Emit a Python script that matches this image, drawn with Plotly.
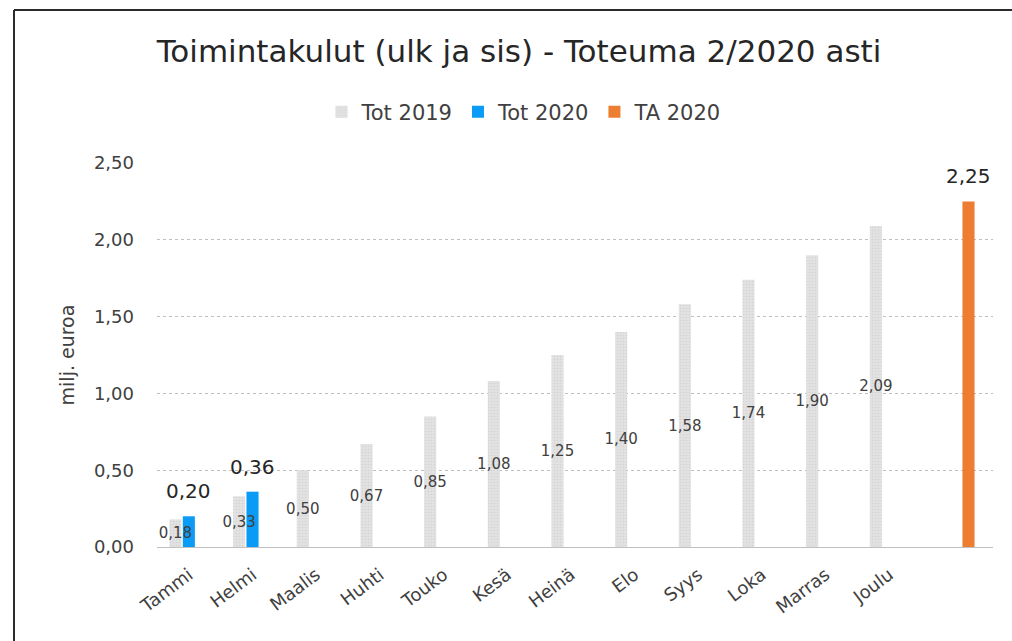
import plotly.graph_objects as go

categories = ["Tammi", "Helmi", "Maalis", "Huhti", "Touko", "Kesä", "Heinä",
              "Elo", "Syys", "Loka", "Marras", "Joulu", " "]
tot_2019 = [0.18, 0.33, 0.50, 0.67, 0.85, 1.08, 1.25, 1.40, 1.58, 1.74, 1.90, 2.09, None]
tot_2020 = [0.20, 0.36, None, None, None, None, None, None, None, None, None, None, None]
ta_2020 = [None, None, None, None, None, None, None, None, None, None, None, None, 2.25]
y_ticks = [0, 0.5, 1.0, 1.5, 2.0, 2.5]

FONT = "DejaVu Sans"
W, H = 1012, 641
L, R, T, B = 157, 19, 163, 94
pw, ph = W - L - R, H - T - B
BW = 0.19          # bar width in category units
OFF = {"Tot 2019": -0.21, "Tot 2020": 0.0, "TA 2020": 0.245}


def fmt(v):
    return f"{v:.2f}".replace(".", ",")


fig = go.Figure()
# coloured series first so the grey labels sit on top
fig.add_trace(go.Bar(
    name="Tot 2020", x=categories, y=tot_2020, legendrank=2,
    width=BW, offset=OFF["Tot 2020"] - BW / 2,
    marker=dict(color="#0a9bf7", line=dict(width=0)),
))
fig.add_trace(go.Bar(
    name="TA 2020", x=categories, y=ta_2020, legendrank=3,
    width=BW, offset=OFF["TA 2020"] - BW / 2,
    marker=dict(color="#ed7d31", line=dict(width=0)),
))
fig.add_trace(go.Bar(
    name="Tot 2019", x=categories, y=tot_2019, legendrank=1,
    width=BW, offset=OFF["Tot 2019"] - BW / 2,
    marker=dict(color="#dedede", line=dict(width=0),
                pattern=dict(shape=".", fgcolor="#c4c4c4", bgcolor="#e2e2e2",
                             size=3, solidity=0.25)),
    texttemplate="%{y:.2f}", textposition="inside", insidetextanchor="middle",
    constraintext="none", textangle=0,
    insidetextfont=dict(family=FONT, size=15, color="#404040"),
))

# value labels above the coloured bars
for name, series in (("Tot 2020", tot_2020), ("TA 2020", ta_2020)):
    for i, v in enumerate(series):
        if v is None:
            continue
        fig.add_annotation(x=i + OFF[name], y=v, xref="x", yref="y",
                           text=fmt(v), showarrow=False, yanchor="middle",
                           yshift=25, font=dict(family=FONT, size=20, color="#262626"))

# frame (left and top edges visible)
x_left = (14 - L) / pw
y_top = (H - 10 - B) / ph
fig.add_shape(type="line", xref="paper", yref="paper", x0=x_left, x1=x_left,
              y0=y_top, y1=-1, line=dict(color="#2b2b2b", width=2))
fig.add_shape(type="line", xref="paper", yref="paper", x0=x_left, x1=2,
              y0=y_top, y1=y_top, line=dict(color="#2b2b2b", width=2))

fig.update_layout(
    width=W, height=H,
    margin=dict(l=L, r=R, t=T, b=B, autoexpand=False),
    paper_bgcolor="white", plot_bgcolor="white",
    separators=", ",
    barmode="overlay",
    font=dict(family=FONT, color="#404040"),
    title=dict(text="Toimintakulut (ulk ja sis) - Toteuma 2/2020 asti",
               x=519 / W, xanchor="center", y=1 - 51 / H, yanchor="middle",
               font=dict(family=FONT, size=31, color="#262626")),
    legend=dict(orientation="h", x=(524 - L) / pw, xanchor="center",
                y=(H - 112 - B) / ph, yanchor="middle",
                font=dict(family=FONT, size=21, color="#404040"),
                itemwidth=30),
    showlegend=True,
    xaxis=dict(type="category", tickangle=-37, showgrid=False,
               showline=False, ticks="", ticklabelstandoff=13,
               tickfont=dict(family=FONT, size=18, color="#404040")),
    yaxis=dict(range=[0, 2.5], tickvals=y_ticks, tickformat=".2f",
               showgrid=True, gridcolor="#c0c0c0", griddash="dot", gridwidth=1,
               zeroline=True, zerolinecolor="#c0c0c0", zerolinewidth=1,
               showline=False, ticks="", ticklabelstandoff=22,
               tickfont=dict(family=FONT, size=18, color="#404040"),
               title=dict(text="milj. euroa", standoff=14,
                          font=dict(family=FONT, size=19, color="#404040"))),
)

fig.write_html("out.html", config={"displayModeBar": False},
               post_script="document.body.style.margin='0';")
